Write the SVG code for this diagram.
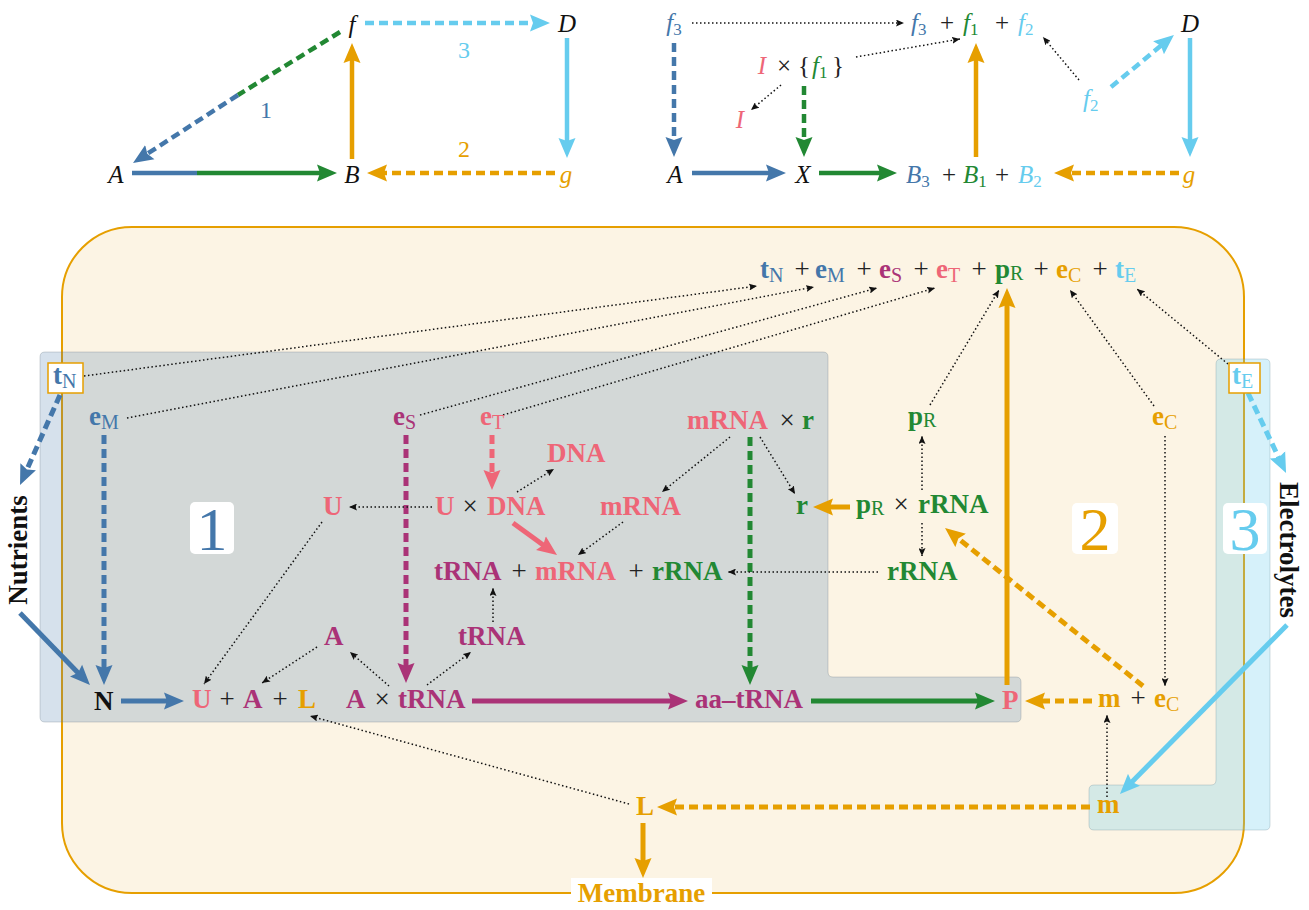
<svg xmlns="http://www.w3.org/2000/svg" width="1309" height="910" viewBox="0 0 1309 910">
<defs>
<style>
text{font-family:"Liberation Serif","Times New Roman",serif}
.it{font-style:italic;font-size:25px}
.rg{font-size:24px}
.b{font-weight:bold;font-size:27px}
.s{font-size:17px;font-weight:normal;font-style:normal}
.sb{font-size:20px;font-weight:normal}
.op{font-weight:normal;font-style:normal;fill:#222}
.big{font-size:62px}
.cB{fill:#4477AA}.cG{fill:#228833}.cC{fill:#66CCEE}.cO{fill:#E69F00}.cP{fill:#EE6677}.cM{fill:#AA3377}.cK{fill:#111}
.ln{fill:none;stroke-width:4.5}
.lm{stroke-width:5}
.dsh{stroke-dasharray:9 5}
.sB{stroke:#4477AA}.sG{stroke:#228833}.sC{stroke:#66CCEE}.sO{stroke:#E69F00}.sP{stroke:#EE6677}.sM{stroke:#AA3377}
.dot{fill:none;stroke:#111;stroke-width:1.5;stroke-dasharray:1.5 2.5;marker-end:url(#ak)}
.box{fill:#fff}
.tbox{fill:#fff;stroke:#E69F00;stroke-width:1.5}
</style>
<marker id="aB" viewBox="0 -9 20 18" refX="8" refY="0" markerWidth="20" markerHeight="18" markerUnits="userSpaceOnUse" orient="auto"><path d="M0,-8.5 L20,0 L0,8.5 L3,0 Z" fill="#4477AA"/></marker>
<marker id="aG" viewBox="0 -9 20 18" refX="8" refY="0" markerWidth="20" markerHeight="18" markerUnits="userSpaceOnUse" orient="auto"><path d="M0,-8.5 L20,0 L0,8.5 L3,0 Z" fill="#228833"/></marker>
<marker id="aC" viewBox="0 -9 20 18" refX="8" refY="0" markerWidth="20" markerHeight="18" markerUnits="userSpaceOnUse" orient="auto"><path d="M0,-8.5 L20,0 L0,8.5 L3,0 Z" fill="#66CCEE"/></marker>
<marker id="aO" viewBox="0 -9 20 18" refX="8" refY="0" markerWidth="20" markerHeight="18" markerUnits="userSpaceOnUse" orient="auto"><path d="M0,-8.5 L20,0 L0,8.5 L3,0 Z" fill="#E69F00"/></marker>
<marker id="aP" viewBox="0 -9 20 18" refX="8" refY="0" markerWidth="20" markerHeight="18" markerUnits="userSpaceOnUse" orient="auto"><path d="M0,-8.5 L20,0 L0,8.5 L3,0 Z" fill="#EE6677"/></marker>
<marker id="aM" viewBox="0 -9 20 18" refX="8" refY="0" markerWidth="20" markerHeight="18" markerUnits="userSpaceOnUse" orient="auto"><path d="M0,-8.5 L20,0 L0,8.5 L3,0 Z" fill="#AA3377"/></marker>
<marker id="ak" viewBox="0 -3.5 8 7" refX="8" refY="0" markerWidth="8" markerHeight="7" markerUnits="userSpaceOnUse" orient="auto"><path d="M0,-3.5 L8,0 L0,3.5 L1.5,0 Z" fill="#111"/></marker>
</defs>
<rect width="1309" height="910" fill="#fff"/>

<g id="cell">
<rect x="62" y="227" width="1182" height="666" rx="70" fill="#FCF4E4" stroke="#E69F00" stroke-width="2"/>
</g>
<g id="region1">
<path d="M45,352 H823 Q828,352 828,357 V672 Q828,677 833,677 H1016 Q1021,677 1021,682 V717 Q1021,722 1016,722 H45 Q40,722 40,717 V357 Q40,352 45,352 Z" fill="#4477AA" fill-opacity="0.22" stroke="#6b7a88" stroke-opacity="0.3" stroke-width="1"/>
</g>
<g id="region3">
<path d="M1221,359 H1265 Q1270,359 1270,364 V825 Q1270,830 1265,830 H1094 Q1089,830 1089,825 V790 Q1089,785 1094,785 H1211 Q1216,785 1216,780 V364 Q1216,359 1221,359 Z" fill="#66CCEE" fill-opacity="0.27" stroke="#6b8a98" stroke-opacity="0.3" stroke-width="1"/>
</g>

<g id="connectors">
<!-- top-left -->
<path class="ln dsh sG" d="M340,32 L238,95"/>
<path class="ln dsh sB" d="M238,95 L143.1,156.5" marker-end="url(#aB)"/>
<path class="ln sB" d="M132,173 H197"/>
<path class="ln sG" d="M197,173 H325" marker-end="url(#aG)"/>
<path class="ln sO" d="M352,159 V55" marker-end="url(#aO)"/>
<path class="ln dsh sC" d="M365,23 H538" marker-end="url(#aC)"/>
<path class="ln sC" d="M567,38 V146" marker-end="url(#aC)"/>
<path class="ln dsh sO" d="M555,173 H379" marker-end="url(#aO)"/>
<!-- top-right -->
<path class="ln dsh sB" d="M674,43 V145" marker-end="url(#aB)"/>
<path class="ln dsh sG" d="M804,86 V145" marker-end="url(#aG)"/>
<path class="ln sB" d="M692,173 H774" marker-end="url(#aB)"/>
<path class="ln sG" d="M819,173 H885" marker-end="url(#aG)"/>
<path class="ln sO" d="M976,157 V55" marker-end="url(#aO)"/>
<path class="ln dsh sO" d="M1179,173 H1066" marker-end="url(#aO)"/>
<path class="ln sC" d="M1190,38 V145" marker-end="url(#aC)"/>
<path class="ln dsh sC" d="M1111,87 L1164.7,42.6" marker-end="url(#aC)"/>
<path class="dot" d="M692,23 H904"/>
<path class="dot" d="M856,57 L960,39"/>
<path class="dot" d="M781,85 L751,110"/>
<path class="dot" d="M1079,80 L1043,37"/>
<!-- main thick -->
<path class="ln lm dsh sB" d="M60,395 L24.9,474" marker-end="url(#aB)"/>
<path class="ln lm dsh sB" d="M104,435 V673" marker-end="url(#aB)"/>
<path class="ln lm dsh sM" d="M406,435 V671" marker-end="url(#aM)"/>
<path class="ln lm dsh sP" d="M492,435 V478" marker-end="url(#aP)"/>
<path class="ln lm dsh sG" d="M750,437 V673" marker-end="url(#aG)"/>
<path class="ln lm sB" d="M20,613 L81.6,676.4" marker-end="url(#aB)"/>
<path class="ln lm sB" d="M121,701 H172" marker-end="url(#aB)"/>
<path class="ln lm sM" d="M472,701 H676" marker-end="url(#aM)"/>
<path class="ln lm sG" d="M811,701 H983" marker-end="url(#aG)"/>
<path class="ln lm sO" d="M1007,685 V300" marker-end="url(#aO)"/>
<path class="ln lm sP" d="M513,523 L547.3,547.9" marker-end="url(#aP)"/>
<path class="ln lm sO" d="M850,507 H825" marker-end="url(#aO)"/>
<path class="ln lm sC" d="M1287,625 L1128.4,785.5" marker-end="url(#aC)"/>
<path class="ln lm sO" d="M643,823 V866" marker-end="url(#aO)"/>
<path class="ln lm dsh sO" d="M1143,686 L954.4,535.5" marker-end="url(#aO)"/>
<path class="ln lm dsh sO" d="M1092,701 H1037" marker-end="url(#aO)"/>
<path class="ln lm dsh sO" d="M1090,807 H669" marker-end="url(#aO)"/>
<path class="ln lm dsh sC" d="M1248,393 L1280.9,462.2" marker-end="url(#aC)"/>
<!-- main dotted -->
<path class="dot" d="M84,376 L757,286"/>
<path class="dot" d="M127,418 L814,287"/>
<path class="dot" d="M420,415 L877,288"/>
<path class="dot" d="M503,415 L935,288"/>
<path class="dot" d="M930,405 L999,290"/>
<path class="dot" d="M1154,406 L1070,290"/>
<path class="dot" d="M1228,364 L1137,289"/>
<path class="dot" d="M432,507 L349,507"/>
<path class="dot" d="M517,492 L554,469"/>
<path class="dot" d="M322,522 L204,684"/>
<path class="dot" d="M730,437 L662,492"/>
<path class="dot" d="M623,522 L578,555"/>
<path class="dot" d="M760,437 L795,494"/>
<path class="dot" d="M922,490 L922,436"/>
<path class="dot" d="M922,523 L922,556"/>
<path class="dot" d="M878,572 L728,572"/>
<path class="dot" d="M1165,436 L1165,686"/>
<path class="dot" d="M1107,797 L1107,715"/>
<path class="dot" d="M629,804 L310,716"/>
<path class="dot" d="M389,686 L350,652"/>
<path class="dot" d="M317,647 L262,683"/>
<path class="dot" d="M427,685 L471,652"/>
<path class="dot" d="M493,622 L493,588"/>
</g>

<!-- top-left nodes -->
<g id="tl-f"><text class="it cK" x="352" y="33" text-anchor="middle">f</text></g>
<g id="tl-D"><text class="it cK" x="567" y="32" text-anchor="middle">D</text></g>
<g id="tl-A"><text class="it cK" x="116" y="183" text-anchor="middle">A</text></g>
<g id="tl-B"><text class="it cK" x="352" y="183" text-anchor="middle">B</text></g>
<g id="tl-g"><text class="it cO" x="566" y="183" text-anchor="middle">g</text></g>
<g id="tl-1"><text class="rg cB" x="266" y="118" text-anchor="middle">1</text></g>
<g id="tl-3"><text class="rg cC" x="464" y="58" text-anchor="middle">3</text></g>
<g id="tl-2"><text class="rg cO" x="464" y="157" text-anchor="middle">2</text></g>

<!-- top-right nodes -->
<g id="tr-f3"><text class="it cB" x="674" y="31" text-anchor="middle">f<tspan class="s" dy="4">3</tspan></text></g>
<g id="tr-sum">
<text class="it cB" x="911" y="31">f<tspan class="s" dy="4">3</tspan></text>
<text class="op" x="947" y="31" font-size="25" text-anchor="middle">+</text>
<text class="it cG" x="963" y="31">f<tspan class="s" dy="4">1</tspan></text>
<text class="op" x="1002" y="31" font-size="25" text-anchor="middle">+</text>
<text class="it cC" x="1018" y="31">f<tspan class="s" dy="4">2</tspan></text>
</g>
<g id="tr-D"><text class="it cK" x="1190" y="32" text-anchor="middle">D</text></g>
<g id="tr-If1">
<text class="it cP" x="762" y="74" text-anchor="middle">I</text>
<text class="op" x="784" y="74" font-size="25" text-anchor="middle">×</text>
<text class="op" x="804" y="74" font-size="25" text-anchor="middle">{</text>
<text class="it cG" x="812" y="74">f<tspan class="s" dy="4">1</tspan></text>
<text class="op" x="838" y="74" font-size="25" text-anchor="middle">}</text>
</g>
<g id="tr-I"><text class="it cP" x="740" y="128" text-anchor="middle">I</text></g>
<g id="tr-f2"><text class="it cC" x="1083" y="107">f<tspan class="s" dy="4">2</tspan></text></g>
<g id="tr-A"><text class="it cK" x="675" y="183" text-anchor="middle">A</text></g>
<g id="tr-X"><text class="it cK" x="803" y="183" text-anchor="middle">X</text></g>
<g id="tr-Bsum">
<text class="it cB" x="906" y="183">B<tspan class="s" dy="4">3</tspan></text>
<text class="op" x="949" y="183" font-size="25" text-anchor="middle">+</text>
<text class="it cG" x="963" y="183">B<tspan class="s" dy="4">1</tspan></text>
<text class="op" x="1002" y="183" font-size="25" text-anchor="middle">+</text>
<text class="it cC" x="1018" y="183">B<tspan class="s" dy="4">2</tspan></text>
</g>
<g id="tr-g"><text class="it cO" x="1189" y="183" text-anchor="middle">g</text></g>

<!-- main nodes -->
<g id="sum-top">
<text class="b cB" x="760" y="278">t<tspan class="sb" dy="4">N</tspan></text>
<text class="op" x="802" y="278" font-size="27" text-anchor="middle">+</text>
<text class="b cB" x="815" y="278">e<tspan class="sb" dy="4">M</tspan></text>
<text class="op" x="864" y="278" font-size="27" text-anchor="middle">+</text>
<text class="b cM" x="879" y="278">e<tspan class="sb" dy="4">S</tspan></text>
<text class="op" x="921" y="278" font-size="27" text-anchor="middle">+</text>
<text class="b cP" x="936" y="278">e<tspan class="sb" dy="4">T</tspan></text>
<text class="op" x="979" y="278" font-size="27" text-anchor="middle">+</text>
<text class="b cG" x="995" y="278">p<tspan class="sb" dy="2">R</tspan></text>
<text class="op" x="1041" y="278" font-size="27" text-anchor="middle">+</text>
<text class="b cO" x="1056" y="278">e<tspan class="sb" dy="4">C</tspan></text>
<text class="op" x="1100" y="278" font-size="27" text-anchor="middle">+</text>
<text class="b cC" x="1115" y="278">t<tspan class="sb" dy="4">E</tspan></text>
</g>
<g id="tN"><rect class="tbox" x="48" y="363" width="35" height="30"/><text class="b cB" x="53" y="384">t<tspan class="sb" dy="4">N</tspan></text></g>
<g id="tE"><rect class="tbox" x="1229" y="363" width="31" height="30"/><text class="b cC" x="1232" y="384">t<tspan class="sb" dy="4">E</tspan></text></g>
<g id="eM"><text class="b cB" x="89" y="425">e<tspan class="sb" dy="4">M</tspan></text></g>
<g id="eS"><text class="b cM" x="393" y="425">e<tspan class="sb" dy="4">S</tspan></text></g>
<g id="eT"><text class="b cP" x="480" y="425">e<tspan class="sb" dy="4">T</tspan></text></g>
<g id="mRNAxr">
<text class="b cP" x="687" y="429">mRNA</text>
<text class="op" x="787" y="429" font-size="27" text-anchor="middle">×</text>
<text class="b cG" x="802" y="429">r</text>
</g>
<g id="pR"><text class="b cG" x="908" y="425">p<tspan class="sb" dy="2">R</tspan></text></g>
<g id="eC"><text class="b cO" x="1152" y="425">e<tspan class="sb" dy="4">C</tspan></text></g>
<g id="DNA"><text class="b cP" x="547" y="462">DNA</text></g>
<g id="U"><text class="b cP" x="323" y="515">U</text></g>
<g id="UxDNA">
<text class="b cP" x="435" y="515">U</text>
<text class="op" x="470" y="515" font-size="27" text-anchor="middle">×</text>
<text class="b cP" x="487" y="515">DNA</text>
</g>
<g id="mRNA"><text class="b cP" x="600" y="515">mRNA</text></g>
<g id="r"><text class="b cG" x="796" y="514">r</text></g>
<g id="pRxrRNA">
<text class="b cG" x="856" y="513">p<tspan class="sb" dy="2">R</tspan></text>
<text class="op" x="901" y="513" font-size="27" text-anchor="middle">×</text>
<text class="b cG" x="918" y="513">rRNA</text>
</g>
<g id="label1"><rect class="box" x="190" y="502" width="44" height="52" rx="5"/><text class="big cB" x="212" y="550" text-anchor="middle">1</text></g>
<g id="label2"><rect class="box" x="1072" y="503" width="46" height="51" rx="5"/><text class="big cO" x="1095" y="550" text-anchor="middle">2</text></g>
<g id="label3"><rect class="box" x="1223" y="503" width="44" height="51" rx="5"/><text class="big cC" x="1245" y="550" text-anchor="middle">3</text></g>
<g id="Nutrients"><text class="b cK" transform="translate(27,550) rotate(-90)" text-anchor="middle">Nutrients</text></g>
<g id="Electrolytes"><text class="b cK" transform="translate(1280,550) rotate(90)" text-anchor="middle">Electrolytes</text></g>
<g id="RNAsum">
<text class="b cM" x="434" y="580">tRNA</text>
<text class="op" x="519" y="580" font-size="27" text-anchor="middle">+</text>
<text class="b cP" x="535" y="580">mRNA</text>
<text class="op" x="636" y="580" font-size="27" text-anchor="middle">+</text>
<text class="b cG" x="652" y="580">rRNA</text>
</g>
<g id="rRNA"><text class="b cG" x="887" y="580">rRNA</text></g>
<g id="A"><text class="b cM" x="324" y="645">A</text></g>
<g id="tRNA"><text class="b cM" x="458" y="645">tRNA</text></g>
<g id="N"><text class="b cK" x="94" y="710">N</text></g>
<g id="UAL">
<text class="b cP" x="192" y="708">U</text>
<text class="op" x="227" y="708" font-size="27" text-anchor="middle">+</text>
<text class="b cM" x="243" y="708">A</text>
<text class="op" x="280" y="708" font-size="27" text-anchor="middle">+</text>
<text class="b cO" x="298" y="708">L</text>
</g>
<g id="AxtRNA">
<text class="b cM" x="346" y="708">A</text>
<text class="op" x="382" y="708" font-size="27" text-anchor="middle">×</text>
<text class="b cM" x="398" y="708">tRNA</text>
</g>
<g id="aa-tRNA"><text class="b cM" x="695" y="708">aa–tRNA</text></g>
<g id="P"><text class="b cP" x="1002" y="709">P</text></g>
<g id="m-eC">
<text class="b cO" x="1098" y="707">m</text>
<text class="op" x="1138" y="707" font-size="27" text-anchor="middle">+</text>
<text class="b cO" x="1154" y="707">e<tspan class="sb" dy="4">C</tspan></text>
</g>
<g id="L"><text class="b cO" x="636" y="815">L</text></g>
<g id="m"><text class="b cO" x="1097" y="813">m</text></g>
<g id="Membrane"><rect class="box" x="571" y="878" width="141" height="32"/><text class="b cO" x="641.5" y="902" text-anchor="middle">Membrane</text></g>
</svg>
